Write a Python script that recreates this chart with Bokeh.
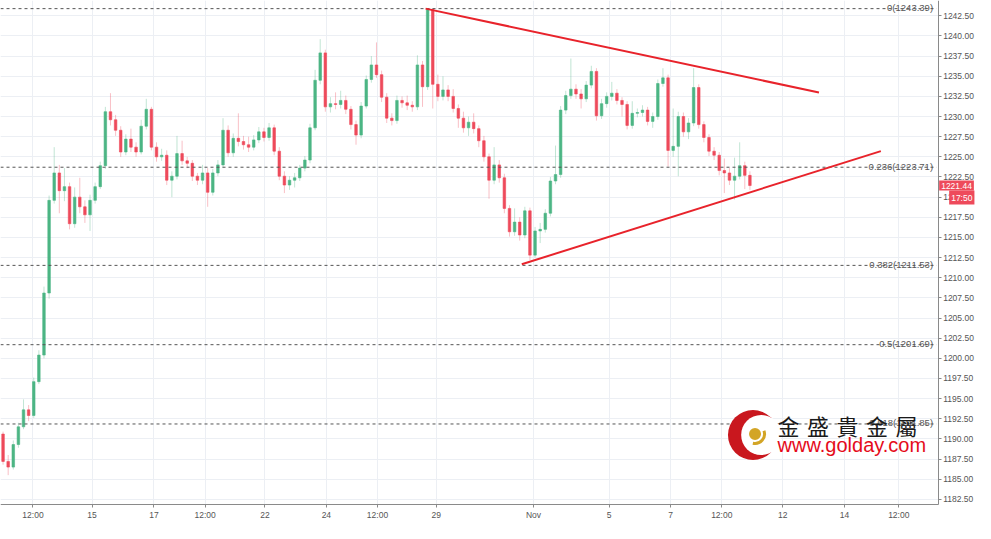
from bokeh.plotting import figure
from bokeh.models import (ColumnDataSource, Range1d, FixedTicker, Label, BoxAnnotation,
                          PrintfTickFormatter, SingleIntervalTicker)
from bokeh.embed import file_html
from bokeh.resources import INLINE

# ---------------- data (XAUUSD, 4h-ish candles) ----------------
first_open = 1190.6
closes = [
    1187.2, 1186.5, 1189.3, 1191.5, 1193.6, 1192.9, 1197.1, 1200.4, 1208.1, 1219.6,
    1223.0, 1220.8, 1221.3, 1216.7, 1220.0, 1218.8, 1217.8, 1219.6, 1221.3, 1223.9,
    1230.6, 1229.6, 1228.3, 1225.6, 1227.2, 1226.2, 1225.6, 1228.8, 1230.9, 1226.2,
    1225.0, 1225.2, 1222.1, 1222.6, 1225.4, 1224.5, 1224.2, 1222.6, 1222.1, 1223.0,
    1220.6, 1223.0, 1224.0, 1228.3, 1225.5, 1227.3, 1226.9, 1226.5, 1226.2, 1227.1,
    1228.1, 1227.4, 1228.6, 1225.7, 1222.6, 1221.5, 1222.1, 1222.4, 1223.6, 1224.6,
    1228.6, 1234.5, 1237.9, 1231.2, 1231.6, 1231.5, 1232.0, 1230.9, 1229.0, 1227.7,
    1231.3, 1234.6, 1236.4, 1235.2, 1232.4, 1229.8, 1229.5, 1232.0, 1231.7, 1231.4,
    1231.2, 1236.4, 1233.7, 1243.3, 1234.0, 1232.5, 1233.3, 1232.5, 1231.0, 1229.8,
    1228.6, 1229.3, 1228.5, 1227.0, 1225.0, 1222.1, 1224.0, 1222.4, 1218.6, 1215.7,
    1216.9, 1215.3, 1218.3, 1212.8, 1215.8, 1216.0, 1218.0, 1222.0, 1222.8, 1230.8,
    1232.6, 1233.4, 1232.8, 1232.2, 1233.9, 1235.6, 1230.1, 1231.6, 1232.5, 1232.9,
    1232.0, 1231.5, 1228.9, 1230.4, 1230.5, 1230.8, 1229.4, 1230.0, 1234.1, 1234.8,
    1225.8, 1226.3, 1230.0, 1228.1, 1229.2, 1233.6, 1229.0, 1227.4, 1225.7, 1225.2,
    1223.3, 1223.0, 1222.1, 1222.6, 1223.9, 1222.7, 1221.44,
]
highs = [
    1190.9, 1188.0, 1189.8, 1192.0, 1194.9, 1194.2, 1197.6, 1201.0, 1208.9, 1220.2,
    1226.2, 1224.0, 1223.6, 1221.8, 1221.2, 1222.4, 1219.6, 1220.3, 1221.8, 1224.4,
    1231.2, 1232.9, 1230.2, 1228.8, 1227.8, 1228.5, 1226.8, 1229.6, 1232.2, 1231.2,
    1226.8, 1226.0, 1225.8, 1223.2, 1227.6, 1227.0, 1225.0, 1224.6, 1223.0, 1224.0,
    1223.6, 1223.5, 1224.6, 1229.8, 1228.9, 1227.9, 1230.4, 1227.6, 1227.5, 1227.7,
    1228.7, 1228.6, 1229.2, 1229.0, 1226.2, 1223.2, 1222.6, 1223.0, 1224.0, 1225.1,
    1229.1, 1235.8, 1239.6, 1238.3, 1232.4, 1233.0, 1233.2, 1232.6, 1231.3, 1229.5,
    1231.8, 1235.1, 1237.5, 1239.2, 1235.7, 1232.9, 1230.4, 1232.6, 1232.5, 1232.6,
    1231.9, 1237.6, 1236.9, 1243.39, 1243.39, 1235.2, 1235.0, 1233.9, 1233.4, 1231.5,
    1230.6, 1230.0, 1230.4, 1228.9, 1227.6, 1225.4, 1226.2, 1224.6, 1222.9, 1219.0,
    1218.6, 1217.5, 1218.8, 1218.7, 1216.3, 1216.8, 1218.5, 1222.5, 1226.4, 1231.3,
    1233.2, 1237.2, 1234.0, 1233.4, 1234.4, 1236.3, 1236.0, 1232.2, 1233.0, 1234.3,
    1233.4, 1232.4, 1231.9, 1231.9, 1231.0, 1231.4, 1231.2, 1230.5, 1234.6, 1236.0,
    1235.2, 1231.0, 1230.6, 1230.5, 1229.8, 1236.0, 1234.0, 1229.4, 1227.8, 1226.2,
    1225.6, 1224.8, 1223.6, 1224.9, 1226.8, 1224.4, 1223.2,
]
lows = [
    1186.8, 1185.5, 1186.2, 1188.9, 1191.2, 1192.2, 1192.6, 1196.8, 1200.0, 1207.4,
    1219.2, 1218.0, 1219.5, 1216.0, 1216.2, 1218.0, 1216.8, 1215.8, 1219.2, 1221.0,
    1223.5, 1228.9, 1227.6, 1225.0, 1225.2, 1225.6, 1225.0, 1225.3, 1228.4, 1225.8,
    1224.4, 1224.5, 1221.5, 1220.0, 1222.2, 1224.0, 1223.6, 1222.0, 1221.5, 1221.6,
    1218.8, 1220.2, 1222.6, 1223.6, 1225.0, 1225.0, 1226.3, 1225.9, 1225.6, 1225.8,
    1226.7, 1226.9, 1227.0, 1225.2, 1222.1, 1220.5, 1220.9, 1221.2, 1222.0, 1223.2,
    1224.2, 1228.3, 1234.0, 1230.6, 1230.5, 1230.9, 1231.0, 1230.3, 1228.4, 1226.5,
    1227.3, 1231.0, 1234.2, 1234.8, 1231.8, 1229.2, 1228.9, 1229.1, 1231.1, 1230.8,
    1230.6, 1230.8, 1231.2, 1233.3, 1231.0, 1231.9, 1232.0, 1231.9, 1230.5, 1228.6,
    1228.0, 1227.6, 1227.9, 1226.2, 1224.4, 1219.8, 1221.6, 1221.8, 1218.0, 1215.1,
    1215.2, 1214.6, 1214.9, 1212.2, 1212.5, 1214.3, 1215.6, 1217.6, 1221.6, 1222.4,
    1230.3, 1232.2, 1232.2, 1231.0, 1231.8, 1233.5, 1229.5, 1229.7, 1231.1, 1232.0,
    1231.5, 1230.0, 1228.4, 1228.5, 1229.9, 1230.0, 1228.9, 1228.6, 1229.6, 1233.7,
    1223.8, 1225.0, 1222.6, 1227.5, 1227.2, 1228.8, 1228.5, 1226.8, 1225.1, 1224.6,
    1222.7, 1220.5, 1221.5, 1219.7, 1222.2, 1221.0, 1220.9,
]

# time axis (bar-index positions of the date labels)
tick_pos = [5.85, 17.4, 29.5, 39.5, 51.2, 63.2, 73.2, 84.7, 103.7, 118.5,
            130.5, 140.5, 152.4, 164.5, 175.1]
tick_labels = ["12:00", "15", "17", "12:00", "22", "24", "12:00", "29", "Nov", "5",
               "7", "12:00", "12", "14", "12:00"]

# Fibonacci retracement levels
fib_ratios = ["0", "0.236", "0.382", "0.5", "0.618"]
fib_levels = [1243.39, 1223.71, 1211.53, 1201.69, 1191.85]

# triangle trend lines (bar index, price)
upper_x = [82.6, 159.5]
upper_y = [1243.39, 1232.98]
lower_x = [101.4, 171.6]
lower_y = [1211.67, 1225.71]

countdown = "17:50"
brand_cn = ["金", "盛", "貴", "金", "屬"]
brand_url = "www.golday.com"

# ---------------- derived ----------------
opens = [first_open] + closes[:-1]
n = len(closes)
idx = list(range(n))
UP, DOWN = "#4cb584", "#ee4a5b"
colors = [UP if c >= o else DOWN for o, c in zip(opens, closes)]
src = ColumnDataSource(dict(
    x=idx, o=opens, c=closes, h=highs, l=lows,
    top=[max(o, c) for o, c in zip(opens, closes)],
    bot=[min(o, c) for o, c in zip(opens, closes)],
    color=colors,
))

X0, X1 = -0.5, 190.1      # full frame width (price scale lives inside it)
Y0, Y1 = 1179.5, 1244.40  # full frame height (time scale lives inside it)
AX = 182.8                # x where the price axis sits
AY = 1181.9               # price where the time axis sits
p = figure(width=975, height=523, x_range=Range1d(X0, X1), y_range=Range1d(Y0, Y1),
           y_axis_location="right", output_backend="svg", toolbar_location=None,
           min_border_left=0, min_border_top=0, min_border_right=0, min_border_bottom=0)
p.outline_line_color = None
p.background_fill_color = "white"
p.border_fill_color = "white"

# grids
p.xgrid.ticker = FixedTicker(ticks=tick_pos)
p.ygrid.ticker = SingleIntervalTicker(interval=2.5, num_minor_ticks=0)
p.xgrid.grid_line_color = "#eceff4"
p.ygrid.grid_line_color = "#eceff4"
# blank the scale strips (cover grid lines there)
p.add_layout(BoxAnnotation(left=AX, fill_color="white", fill_alpha=1.0,
                           line_color=None, level="underlay"))
p.add_layout(BoxAnnotation(top=AY, fill_color="white", fill_alpha=1.0,
                           line_color=None, level="underlay"))

# axes
p.yaxis.fixed_location = AX
p.yaxis.bounds = (AY, Y1)
p.yaxis.ticker = SingleIntervalTicker(interval=2.5, num_minor_ticks=0)
p.yaxis.formatter = PrintfTickFormatter(format="%.2f")
p.xaxis.fixed_location = AY
p.xaxis.bounds = (X0, AX)
p.xaxis.ticker = FixedTicker(ticks=tick_pos)
p.xaxis.major_label_overrides = {t: s for t, s in zip(tick_pos, tick_labels)}
for ax in (p.xaxis, p.yaxis):
    ax.axis_line_color = "#8a8a8a"
    ax.major_tick_line_color = "#8a8a8a"
    ax.minor_tick_line_color = None
    ax.major_tick_in = 0
    ax.major_tick_out = 3
    ax.major_label_text_color = "#555555"
    ax.major_label_text_font = "Liberation Sans"
    ax.major_label_text_font_size = "8.5px"
p.yaxis.major_label_standoff = 2
p.xaxis.major_label_standoff = 3

# candles
p.segment(x0="x", y0="l", x1="x", y1="h", source=src, line_color="color",
          line_alpha=0.35, line_width=1)
p.vbar(x="x", width=0.5, top="top", bottom="bot", source=src,
       fill_color="color", line_color="color", line_width=0.6)

# fib levels
p.segment(x0=[X0] * len(fib_levels), y0=fib_levels, x1=[AX - 0.3] * len(fib_levels),
          y1=fib_levels, line_color="#555555", line_dash="3 3", line_width=1)
for r, lvl in zip(fib_ratios, fib_levels):
    p.add_layout(Label(x=AX - 1.0, y=lvl, text=f"{r}({lvl:.2f})", text_align="right",
                       text_baseline="alphabetic", y_offset=1, text_font="Liberation Sans",
                       text_font_size="9.5px", text_color="#555555"))

# triangle
p.line(upper_x, upper_y, line_color="#e8232b", line_width=2)
p.line(lower_x, lower_y, line_color="#e8232b", line_width=2)

# watermark logo
p.scatter([146.6], [1190.48], size=50, marker="circle", fill_color="#c9171e",
          line_color=None, level="overlay")
p.scatter([148.2], [1190.48], size=40, marker="circle", fill_color="white",
          line_color=None, level="overlay")
p.scatter([147.0], [1190.6], size=12, marker="circle", fill_color="#d3a526",
          line_color=None, level="overlay")
p.annular_wedge(x=[147.0], y=[1190.6], inner_radius=8, outer_radius=11,
                inner_radius_units="screen", outer_radius_units="screen",
                start_angle=-1.8, end_angle=0.35, fill_color="#d3a526",
                line_color=None, level="overlay")
for k, ch in enumerate(brand_cn):
    p.add_layout(Label(x=151.4, y=1191.67, x_offset=k * 29.5, text=ch,
                       text_align="left", text_baseline="middle",
                       text_font="Noto Sans CJK TC", text_font_size="22px",
                       text_color="#1a1a1a", level="overlay"))
p.add_layout(Label(x=151.4, y=1189.3, text=brand_url, text_align="left",
                   text_baseline="middle", text_font="Liberation Sans",
                   text_font_size="20px", text_color="#e50b1a", level="overlay"))

# last price and countdown boxes on the price axis
p.add_layout(Label(x=AX, y=closes[-1], x_offset=1, text=f"{closes[-1]:.2f}",
                   text_align="left", text_baseline="middle", text_font="Liberation Sans",
                   text_font_size="8.5px", text_color="white", background_fill_color="#ee4a5b",
                   padding=2, level="overlay"))
p.add_layout(Label(x=AX, y=closes[-1], x_offset=11, y_offset=-12, text=countdown,
                   text_align="left", text_baseline="middle", text_font="Liberation Sans",
                   text_font_size="8.5px", text_color="white", background_fill_color="#ee4a5b",
                   padding=2, level="overlay"))

open("out.html", "w").write(file_html(p, INLINE))
